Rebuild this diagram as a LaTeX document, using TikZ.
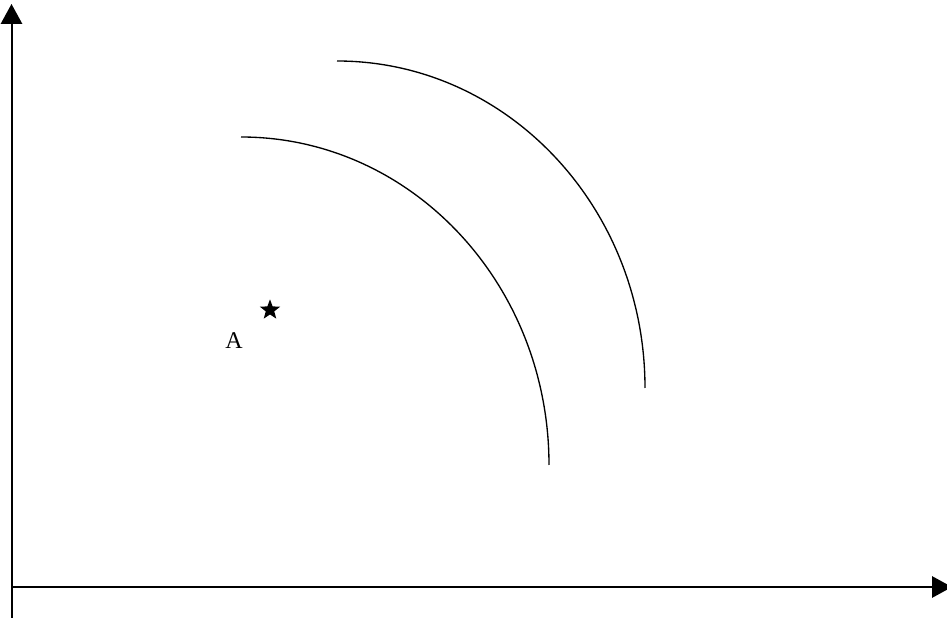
\documentclass[tikz,border=0pt]{standalone}
\usepackage{fontspec}
\setmainfont{Liberation Serif}
\usetikzlibrary{arrows.meta,shapes.geometric}
\begin{document}
\begin{tikzpicture}[x=0.75pt,y=-0.75pt,
  axis/.style={line width=1.5pt,-{Triangle[length=15pt,width=16pt]}},
  wave/.style={line width=1pt},
  starmark/.style={star,star points=5,star point ratio=2.4,fill=black,inner sep=0pt,minimum size=16pt},
  lbl/.style={font=\fontsize{18}{21}\selectfont,inner sep=0pt}]
\useasboundingbox (0,0) rectangle (947,623);
\clip (0,0) rectangle (947,623);
\coordinate (ybot) at (11.5,618);
\coordinate (ytop) at (11.5,4);
\coordinate (xleft) at (11.5,587);
\coordinate (xright) at (952,587);
\draw[axis] (ybot) -- (ytop);
\draw[axis] (xleft) -- (xright);
\draw[wave] (241,137) arc[start angle=90,end angle=0,x radius=308,y radius=-328];
\draw[wave] (337,61) arc[start angle=90,end angle=0,x radius=308,y radius=-327];
\node[starmark] (s) at (270,310) {};
\node[lbl] (a) at (234,341) {A};
\end{tikzpicture}
\end{document}
